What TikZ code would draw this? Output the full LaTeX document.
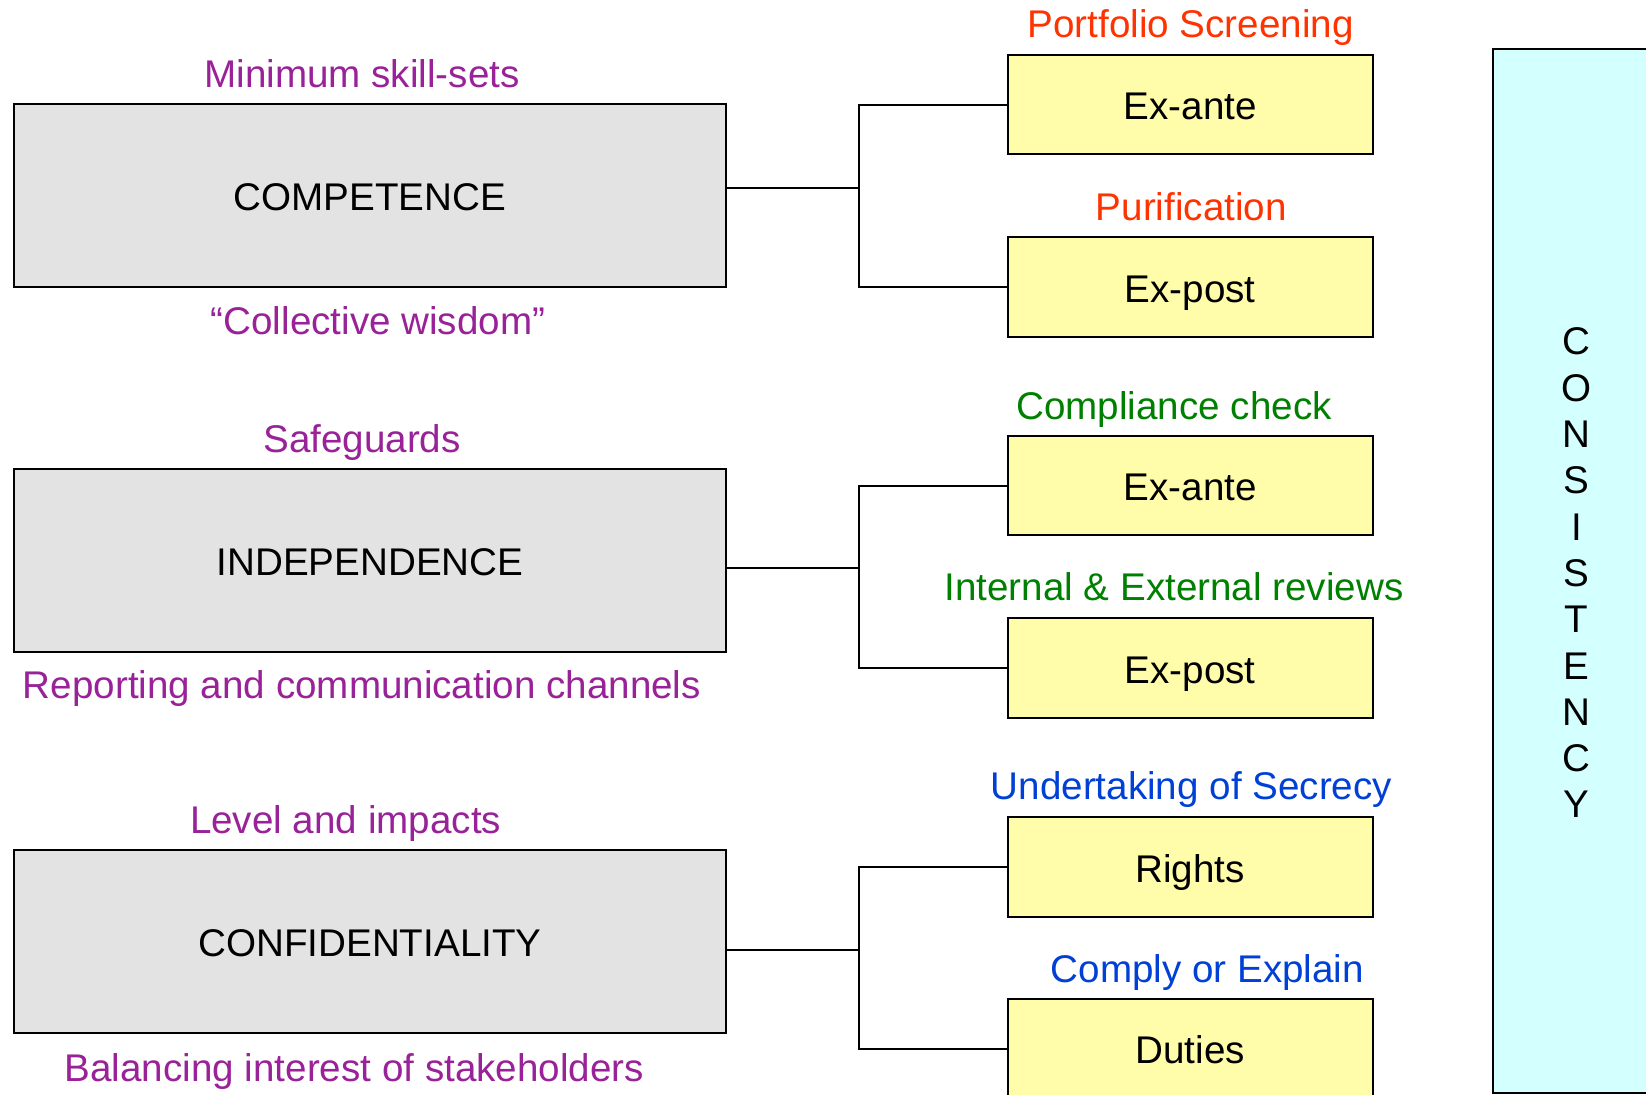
\documentclass[tikz,border=0pt]{standalone}
\usepackage{fontspec}
\setmainfont{Liberation Sans}
\definecolor{boxgray}{RGB}{227,227,227}
\definecolor{boxyellow}{RGB}{255,252,170}
\definecolor{boxcyan}{RGB}{212,255,255}
\definecolor{lblpurple}{RGB}{153,34,153}
\definecolor{lblred}{RGB}{255,51,0}
\definecolor{lblgreen}{RGB}{0,128,0}
\definecolor{lblblue}{RGB}{0,64,214}
\newcommand{\diagfont}{\fontsize{19.3}{22.9}\selectfont}

\begin{document}
\begin{tikzpicture}[x=0.5pt,y=-0.5pt]
                        \tikzstyle{pillar}=[draw,line width=1pt,fill=boxgray,minimum width=356pt,minimum height=91.25pt,inner sep=0pt,text height=15.3pt,text depth=0pt,font=\diagfont]
                        \tikzstyle{stage}=[draw,line width=1pt,fill=boxyellow,minimum width=182.25pt,minimum height=49.75pt,inner sep=0pt,text height=15.3pt,text depth=0pt,font=\diagfont]
                        \tikzstyle{lbl}=[anchor=base,inner sep=0pt,font=\diagfont]
                        \tikzstyle{wire}=[line width=1pt]
                        \useasboundingbox (0,0) rectangle (1646,1095);
                        \clip (0,0) rectangle (1646,1095);
                        \fill[white] (0,0) rectangle (1646,1095);

                        \node[pillar] (comp) at (370,195.5) {COMPETENCE};
                        \node[pillar] (indep) at (370,560.3) {INDEPENDENCE};
                        \node[pillar] (conf) at (370,941.3) {CONFIDENTIALITY};

                        \node[stage] (exa1) at (1190.25,104.7) {Ex-ante};
                        \node[stage] (exp1) at (1190.25,287) {Ex-post};
                        \node[stage] (exa2) at (1190.25,485.7) {Ex-ante};
                        \node[stage] (exp2) at (1190.25,668) {Ex-post};
                        \node[stage] (rights) at (1190.25,867) {Rights};
                        \node[stage] (duties) at (1190.25,1048.7) {Duties};

                        \node[lbl,text=lblpurple] (minskill) at (362,88) {Minimum skill-sets};
                        \node[lbl,text=lblpurple] (wisdom) at (378,335) {“Collective wisdom”};
                        \node[lbl,text=lblpurple] (safeg) at (362,452.5) {Safeguards};
                        \node[lbl,text=lblpurple] (report) at (362,699) {Reporting and communication channels};
                        \node[lbl,text=lblpurple] (level) at (345.6,833.5) {Level and impacts};
                        \node[lbl,text=lblpurple] (balance) at (354.3,1081.5) {Balancing interest of stakeholders};

                        \node[lbl,text=lblred] (screen) at (1190.6,37.5) {Portfolio Screening};
                        \node[lbl,text=lblred] (purif) at (1191.4,221) {Purification};
                        \node[lbl,text=lblgreen] (compl) at (1174,420) {Compliance check};
                        \node[lbl,text=lblgreen] (review) at (1174,601) {Internal \& External reviews};
                        \node[lbl,text=lblblue] (secrecy) at (1191.4,800) {Undertaking of Secrecy};
                        \node[lbl,text=lblblue] (explain) at (1207.3,982.5) {Comply or Explain};

                        \coordinate (j1) at (859,187.7);
                        \coordinate (j2) at (859,568.3);
                        \coordinate (j3) at (859,950);
                        \draw[wire] (comp.east |- j1) -- (j1);
                        \draw[wire] (exa1.west) -| (j1) |- (exp1.west);
                        \draw[wire] (indep.east |- j2) -- (j2);
                        \draw[wire] (exa2.west) -| (j2) |- (exp2.west);
                        \draw[wire] (conf.east |- j3) -- (j3);
                        \draw[wire] (rights.west) -| (j3) |- (duties.west);

                        \draw[line width=1pt,fill=boxcyan] (1493.3,49.3) rectangle (1720,1093.3);
                        \foreach \ch [count=\i from 0] in {C,O,N,S,I,S,T,E,N,C,Y}
                            \node[lbl] (cons\i) at (1576.7,355+46.3*\i) {\ch};
                    \end{tikzpicture}
\end{document}
